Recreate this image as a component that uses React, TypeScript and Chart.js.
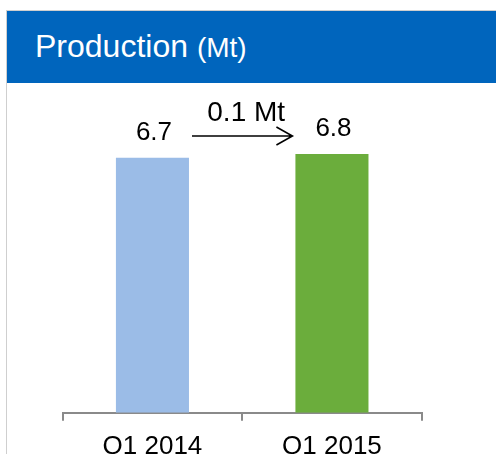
import React, { useEffect, useRef } from "react";
import { Chart, registerables } from "chart.js";

Chart.register(...registerables);

const title = "Production";
const unit = "Mt";
const categories = ["Q1 2014", "Q1 2015"];
const production = [6.7, 6.8];
const barColors = ["#9BBCE7", "#6BAD3C"];
const yMin = 0;
const yMax = 8;

const FONT = "'Liberation Sans', Arial, sans-serif";

const annotationPlugin = {
  id: "annotations",
  afterDatasetsDraw(chart: any) {
    const ctx = chart.ctx;
    const meta = chart.getDatasetMeta(0);
    ctx.save();
    ctx.fillStyle = "#000";
    ctx.textAlign = "center";
    ctx.textBaseline = "alphabetic";
    ctx.font = `26px ${FONT}`;
    meta.data.forEach((bar: any, i: number) => {
      ctx.fillText(production[i].toFixed(1), bar.x + 1.5, bar.y - 18);
    });
    // change arrow
    const b0 = meta.data[0];
    const b1 = meta.data[1];
    const x1 = b0.x + b0.width / 2 + 3;
    const x2 = b1.x - b1.width / 2 - 3;
    const y = b1.y - 18;
    ctx.strokeStyle = "#000";
    ctx.lineWidth = 1.6;
    ctx.beginPath();
    ctx.moveTo(x1, y);
    ctx.lineTo(x2, y);
    ctx.moveTo(x2 - 16, y - 9);
    ctx.lineTo(x2, y);
    ctx.lineTo(x2 - 16, y + 9);
    ctx.stroke();
    const diff = production[1] - production[0];
    ctx.font = `28px ${FONT}`;
    ctx.fillText(`${diff.toFixed(1)} ${unit}`, (x1 + x2) / 2 + 4, y - 15);
    ctx.restore();
  },
};

export default function App() {
  const canvasRef = useRef<HTMLCanvasElement | null>(null);

  useEffect(() => {
    if (!canvasRef.current) return;
    const chart = new Chart(canvasRef.current, {
      type: "bar",
      data: {
        labels: categories,
        datasets: [
          {
            data: production,
            backgroundColor: barColors,
            borderWidth: 0,
            categoryPercentage: 0.407,
            barPercentage: 1,
          },
        ],
      },
      options: {
        responsive: false,
        animation: false,
        events: [],
        layout: { padding: { left: 62.7, right: 74.3, top: 108.4, bottom: 0 } },
        plugins: {
          legend: { display: false },
          tooltip: { enabled: false },
          title: { display: false },
        },
        scales: {
          x: {
            grid: {
              offset: true,
              drawOnChartArea: false,
              drawTicks: true,
              tickLength: 8,
              color: "#8a8a8a",
              lineWidth: 2,
            },
            border: { display: true, color: "#8a8a8a", width: 2 },
            ticks: {
              color: "#000",
              font: { family: FONT, size: 26 },
              padding: 10,
              maxRotation: 0,
              autoSkip: false,
            },
          },
          y: { display: false, min: yMin, max: yMax },
        },
      },
      plugins: [annotationPlugin],
    });
    return () => chart.destroy();
  }, []);

  return (
    <div
      style={{
        position: "fixed",
        left: 0,
        top: 0,
        width: 496,
        height: 454,
        overflow: "hidden",
        background: "#fff",
      }}
    >
      <canvas
        ref={canvasRef}
        width={496}
        height={472}
        style={{ position: "absolute", left: 0, top: 0, width: 496, height: 472 }}
      />
      <div
        style={{
          position: "absolute",
          left: 6,
          top: 10,
          width: 700,
          height: 700,
          borderTop: "1px solid #cfcfcf",
          borderLeft: "1px solid #cfcfcf",
          pointerEvents: "none",
        }}
      />
      <div
        style={{
          position: "absolute",
          left: 7,
          top: 11,
          width: 489,
          height: 72,
          background: "#0065BD",
        }}
      />
      <div
        style={{
          position: "absolute",
          left: 35,
          top: 30,
          color: "#fff",
          fontFamily: FONT,
          fontSize: 32,
          lineHeight: 1,
          whiteSpace: "nowrap",
        }}
      >
        {title} <span style={{ fontSize: 28 }}>({unit})</span>
      </div>
    </div>
  );
}
